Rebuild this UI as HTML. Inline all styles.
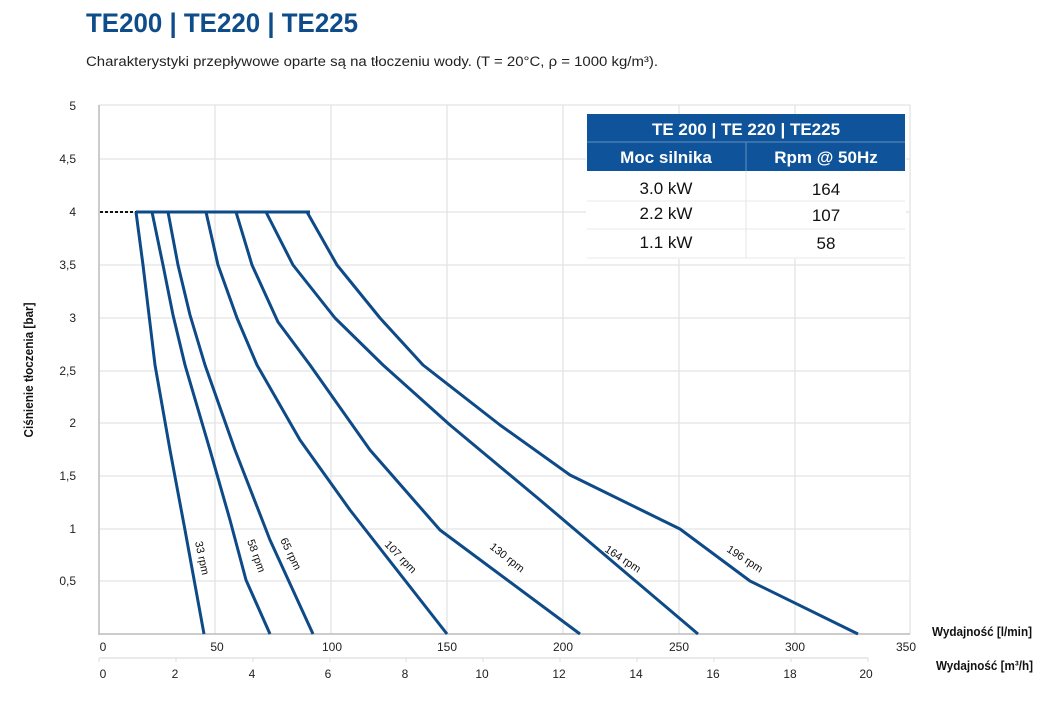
<!DOCTYPE html>
<html><head><meta charset="utf-8"><style>
body{margin:0;background:#fff;width:1054px;height:700px;overflow:hidden;font-family:"Liberation Sans",sans-serif}
</style></head><body>
<svg width="1054" height="700" xmlns="http://www.w3.org/2000/svg" font-family="Liberation Sans, sans-serif">
<text x="86" y="32" font-size="27" font-weight="bold" fill="#0f4c8a" textLength="272" lengthAdjust="spacingAndGlyphs">TE200 | TE220 | TE225</text>
<text x="86" y="66" font-size="13.5" fill="#222" textLength="572" lengthAdjust="spacingAndGlyphs">Charakterystyki przepływowe oparte są na tłoczeniu wody. (T = 20°C, ρ = 1000 kg/m³).</text>
<g stroke="#e3e3e3" stroke-width="1.3">
<line x1="99" y1="105" x2="910" y2="105"/><line x1="99" y1="159" x2="910" y2="159"/><line x1="99" y1="212" x2="910" y2="212"/><line x1="99" y1="265" x2="910" y2="265"/><line x1="99" y1="318" x2="910" y2="318"/><line x1="99" y1="371" x2="910" y2="371"/><line x1="99" y1="423" x2="910" y2="423"/><line x1="99" y1="476" x2="910" y2="476"/><line x1="99" y1="529" x2="910" y2="529"/><line x1="99" y1="581" x2="910" y2="581"/>
<line x1="215" y1="105" x2="215" y2="634"/><line x1="331" y1="105" x2="331" y2="634"/><line x1="447" y1="105" x2="447" y2="634"/><line x1="563" y1="105" x2="563" y2="634"/><line x1="679" y1="105" x2="679" y2="634"/><line x1="795" y1="105" x2="795" y2="634"/><line x1="910" y1="105" x2="910" y2="634"/>
</g>
<line x1="99" y1="105" x2="99" y2="635" stroke="#bbb" stroke-width="1.5"/>
<line x1="99" y1="634" x2="910" y2="634" stroke="#bbb" stroke-width="1.5"/>
<line x1="99" y1="658" x2="868" y2="658" stroke="#ddd" stroke-width="1.2"/>
<g stroke="#ddd"><line x1="99" y1="658" x2="99" y2="662"/><line x1="176" y1="658" x2="176" y2="662"/><line x1="253" y1="658" x2="253" y2="662"/><line x1="330" y1="658" x2="330" y2="662"/><line x1="406" y1="658" x2="406" y2="662"/><line x1="483" y1="658" x2="483" y2="662"/><line x1="560" y1="658" x2="560" y2="662"/><line x1="637" y1="658" x2="637" y2="662"/><line x1="714" y1="658" x2="714" y2="662"/><line x1="791" y1="658" x2="791" y2="662"/><line x1="868" y1="658" x2="868" y2="662"/></g>
<g font-size="12" fill="#222" text-anchor="end">
<text x="76" y="110">5</text><text x="76" y="163">4,5</text><text x="76" y="216">4</text><text x="76" y="269">3,5</text><text x="76" y="322">3</text><text x="76" y="375">2,5</text><text x="76" y="427">2</text><text x="76" y="480">1,5</text><text x="76" y="533">1</text><text x="76" y="585">0,5</text>
</g>
<g font-size="12" fill="#222" text-anchor="middle">
<text x="103" y="651">0</text><text x="217" y="651">50</text><text x="332" y="651">100</text><text x="447" y="651">150</text><text x="563" y="651">200</text><text x="679" y="651">250</text><text x="795" y="651">300</text><text x="906" y="651">350</text>
<text x="103" y="678">0</text><text x="175" y="678">2</text><text x="252" y="678">4</text><text x="328" y="678">6</text><text x="405" y="678">8</text><text x="482" y="678">10</text><text x="559" y="678">12</text><text x="636" y="678">14</text><text x="713" y="678">16</text><text x="790" y="678">18</text><text x="866" y="678">20</text>
</g>
<text x="932" y="636" font-size="12.5" font-weight="bold" fill="#111" textLength="100" lengthAdjust="spacingAndGlyphs">Wydajność [l/min]</text>
<text x="936" y="670" font-size="12.5" font-weight="bold" fill="#111" textLength="97" lengthAdjust="spacingAndGlyphs">Wydajność [m³/h]</text>
<text transform="translate(33,370) rotate(-90)" font-size="12.5" font-weight="bold" fill="#111" text-anchor="middle" textLength="135" lengthAdjust="spacingAndGlyphs">Ciśnienie tłoczenia [bar]</text>
<line x1="100" y1="212" x2="136" y2="212" stroke="#111" stroke-width="2" stroke-dasharray="3,2"/>
<g fill="none" stroke="#0d4a87" stroke-width="3" stroke-linejoin="round">
<line x1="136" y1="212" x2="310" y2="212"/>
<polyline points="136,212 143,265 149,315 155,365 170,450 185,530 204,634"/>
<polyline points="152,212 163,265 173,315 185,365 210,450 230,520 246,580 270,634"/>
<polyline points="168,212 178,265 190,315 205,365 235,450 270,540 313,634"/>
<polyline points="206,212 218,265 237,318 257,365 300,440 350,510 447,634"/>
<polyline points="236,212 252,265 278,322 310,365 370,450 440,530 580,634"/>
<polyline points="266,212 293,265 335,318 383,365 450,425 540,500 698,634"/>
<polyline points="307,212 337,265 380,318 423,365 500,425 570,475 680,529 750,581 858,634"/>
</g>
<g font-size="11" fill="#111">
<text transform="translate(195,542) rotate(78)">33 rpm</text>
<text transform="translate(247,541) rotate(70)">58 rpm</text>
<text transform="translate(280,540) rotate(64)">65 rpm</text>
<text transform="translate(384,545) rotate(46)">107 rpm</text>
<text transform="translate(489,548) rotate(38)">130 rpm</text>
<text transform="translate(604,551) rotate(33)">164 rpm</text>
<text transform="translate(726,551) rotate(33)">196 rpm</text>
</g>
<rect x="586" y="114" width="320" height="145" fill="#fff"/>
<rect x="587" y="114" width="318" height="28" fill="#0f549a"/>
<rect x="587" y="142" width="318" height="29" fill="#0f549a"/>
<line x1="587" y1="142" x2="905" y2="142" stroke="#5f8fc0"/>
<line x1="746" y1="142" x2="746" y2="258" stroke="#e5e5e5"/>
<line x1="746" y1="142" x2="746" y2="171" stroke="#5f8fc0"/>
<line x1="587" y1="201" x2="905" y2="201" stroke="#e8e8e8"/>
<line x1="587" y1="229" x2="905" y2="229" stroke="#e8e8e8"/>
<line x1="587" y1="258" x2="905" y2="258" stroke="#e8e8e8"/>
<g text-anchor="middle" font-weight="bold" fill="#fff" font-size="17">
<text x="746" y="135">TE 200 | TE 220 | TE225</text>
<text x="666" y="163">Moc silnika</text>
<text x="826" y="163">Rpm @ 50Hz</text>
</g>
<g text-anchor="middle" fill="#111" font-size="17">
<text x="666" y="194">3.0 kW</text><text x="826" y="195">164</text>
<text x="666" y="219">2.2 kW</text><text x="826" y="221">107</text>
<text x="666" y="248">1.1 kW</text><text x="826" y="249">58</text>
</g>
</svg>
</body></html>
